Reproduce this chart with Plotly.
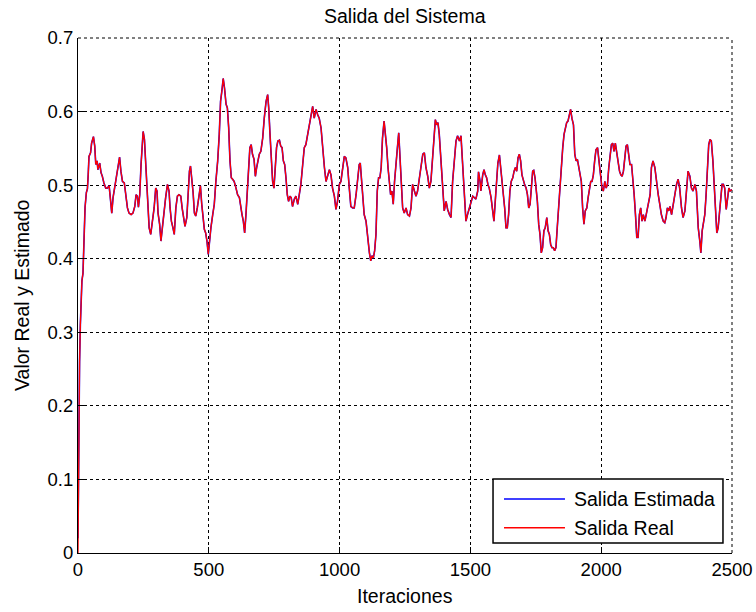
import plotly.graph_objects as go

# Iteration index and measured system output
iteraciones = [
    0, 2, 4, 6, 9, 12, 15, 19, 23, 27, 32, 36, 39, 42, 48, 52, 59, 64, 68, 73,
    76, 83, 88, 93, 99, 106, 112, 119, 124, 129, 134, 140, 147, 153, 159, 164, 170, 177, 182, 189,
    195, 203, 210, 217, 222, 227, 231, 236, 241, 245, 249, 254, 259, 263, 268, 272, 278, 284, 291, 297,
    302, 306, 312, 317, 323, 329, 335, 342, 348, 352, 357, 363, 368, 374, 380, 386, 393, 398, 403, 409,
    416, 421, 426, 430, 435, 440, 445, 450, 456, 463, 468, 473, 478, 483, 488, 493, 498, 502, 508, 515,
    521, 527, 534, 540, 545, 550, 555, 560, 566, 571, 576, 581, 586, 591, 597, 604, 610, 617, 622, 627,
    632, 637, 642, 647, 652, 657, 662, 667, 673, 678, 683, 688, 693, 699, 706, 712, 719, 725, 729, 734,
    739, 744, 749, 754, 759, 764, 770, 775, 780, 785, 790, 795, 800, 805, 810, 815, 820, 827, 833, 840,
    846, 852, 859, 865, 871, 878, 884, 891, 897, 903, 910, 916, 922, 929, 935, 942, 948, 954, 961, 967,
    973, 980, 986, 992, 999, 1005, 1012, 1018, 1024, 1031, 1037, 1043, 1050, 1056, 1063, 1069, 1075, 1079, 1083, 1088,
    1094, 1101, 1107, 1114, 1119, 1124, 1129, 1134, 1139, 1144, 1149, 1154, 1159, 1164, 1170, 1175, 1180, 1185, 1190, 1195,
    1200, 1205, 1210, 1216, 1221, 1226, 1231, 1236, 1241, 1247, 1254, 1260, 1267, 1273, 1279, 1286, 1292, 1298, 1305, 1311,
    1318, 1324, 1330, 1337, 1343, 1349, 1356, 1362, 1366, 1371, 1376, 1381, 1388, 1394, 1400, 1407, 1413, 1420, 1426, 1432,
    1439, 1445, 1451, 1458, 1464, 1470, 1477, 1483, 1489, 1496, 1502, 1509, 1515, 1521, 1528, 1531, 1537, 1540, 1547, 1552,
    1557, 1562, 1567, 1572, 1579, 1585, 1590, 1595, 1600, 1605, 1611, 1616, 1621, 1626, 1631, 1636, 1641, 1646, 1651, 1656,
    1662, 1667, 1672, 1677, 1682, 1687, 1692, 1697, 1702, 1707, 1713, 1718, 1723, 1728, 1733, 1738, 1742, 1747, 1751, 1756,
    1761, 1766, 1771, 1776, 1781, 1786, 1792, 1797, 1802, 1807, 1812, 1817, 1822, 1827, 1832, 1837, 1843, 1848, 1853, 1858,
    1863, 1868, 1873, 1878, 1883, 1888, 1894, 1899, 1904, 1909, 1914, 1919, 1924, 1929, 1934, 1939, 1945, 1950, 1955, 1960,
    1965, 1970, 1975, 1980, 1986, 1993, 1998, 2003, 2008, 2014, 2019, 2024, 2029, 2034, 2039, 2044, 2049, 2054, 2059, 2065,
    2070, 2075, 2080, 2085, 2090, 2095, 2100, 2105, 2110, 2116, 2121, 2126, 2131, 2136, 2141, 2146, 2151, 2156, 2161, 2167,
    2172, 2177, 2182, 2187, 2192, 2198, 2205, 2211, 2218, 2224, 2230, 2237, 2243, 2248, 2253, 2258, 2263, 2269, 2275, 2281,
    2288, 2294, 2300, 2307, 2313, 2320, 2326, 2332, 2339, 2345, 2351, 2358, 2364, 2371, 2377, 2381, 2386, 2391, 2396, 2401,
    2406, 2411, 2416, 2421, 2427, 2432, 2437, 2442, 2447, 2452, 2457, 2462, 2467, 2472, 2478, 2483, 2488, 2493, 2500,
]

salida_real = [
    0.000, 0.120, 0.200, 0.260, 0.310, 0.350, 0.370, 0.380, 0.430, 0.470, 0.490, 0.495, 0.514, 0.539, 0.544, 0.557, 0.566, 0.553, 0.528, 0.533,
    0.521, 0.530, 0.517, 0.512, 0.503, 0.496, 0.496, 0.499, 0.481, 0.462, 0.483, 0.496, 0.510, 0.526, 0.538, 0.519, 0.505, 0.503, 0.487, 0.469,
    0.462, 0.460, 0.462, 0.471, 0.487, 0.485, 0.470, 0.487, 0.528, 0.560, 0.573, 0.562, 0.528, 0.501, 0.469, 0.442, 0.433, 0.449, 0.469, 0.496,
    0.492, 0.462, 0.447, 0.424, 0.447, 0.469, 0.483, 0.501, 0.492, 0.469, 0.451, 0.442, 0.433, 0.469, 0.485, 0.487, 0.485, 0.469, 0.458, 0.444,
    0.456, 0.492, 0.519, 0.526, 0.510, 0.490, 0.462, 0.458, 0.469, 0.490, 0.499, 0.474, 0.451, 0.440, 0.435, 0.424, 0.406, 0.424, 0.442, 0.460,
    0.474, 0.505, 0.533, 0.569, 0.614, 0.628, 0.645, 0.632, 0.610, 0.605, 0.578, 0.533, 0.510, 0.508, 0.505, 0.496, 0.487, 0.483, 0.469, 0.460,
    0.451, 0.435, 0.460, 0.487, 0.514, 0.551, 0.555, 0.542, 0.535, 0.512, 0.524, 0.533, 0.542, 0.546, 0.564, 0.591, 0.614, 0.623, 0.605, 0.569,
    0.533, 0.505, 0.496, 0.524, 0.551, 0.560, 0.561, 0.553, 0.551, 0.533, 0.528, 0.510, 0.487, 0.478, 0.485, 0.483, 0.471, 0.481, 0.485, 0.474,
    0.487, 0.501, 0.528, 0.551, 0.555, 0.569, 0.578, 0.596, 0.607, 0.591, 0.603, 0.596, 0.591, 0.578, 0.546, 0.524, 0.505, 0.514, 0.521, 0.514,
    0.496, 0.485, 0.467, 0.478, 0.501, 0.505, 0.528, 0.539, 0.537, 0.524, 0.496, 0.471, 0.469, 0.469, 0.487, 0.505, 0.528, 0.530, 0.514, 0.487,
    0.460, 0.451, 0.429, 0.408, 0.397, 0.404, 0.401, 0.411, 0.433, 0.492, 0.510, 0.510, 0.524, 0.564, 0.587, 0.573, 0.551, 0.524, 0.501, 0.487,
    0.492, 0.474, 0.505, 0.537, 0.551, 0.571, 0.542, 0.501, 0.469, 0.462, 0.469, 0.460, 0.458, 0.469, 0.501, 0.492, 0.485, 0.492, 0.510, 0.519,
    0.542, 0.544, 0.524, 0.512, 0.496, 0.505, 0.537, 0.569, 0.589, 0.582, 0.585, 0.569, 0.533, 0.510, 0.465, 0.478, 0.467, 0.460, 0.456, 0.505,
    0.533, 0.560, 0.567, 0.560, 0.567, 0.533, 0.492, 0.451, 0.460, 0.469, 0.478, 0.485, 0.483, 0.481, 0.492, 0.518, 0.505, 0.492, 0.514, 0.521,
    0.514, 0.510, 0.501, 0.496, 0.483, 0.469, 0.451, 0.478, 0.505, 0.530, 0.541, 0.524, 0.505, 0.483, 0.469, 0.442, 0.442, 0.460, 0.492, 0.505,
    0.510, 0.519, 0.524, 0.519, 0.537, 0.542, 0.533, 0.514, 0.505, 0.501, 0.496, 0.487, 0.469, 0.474, 0.496, 0.519, 0.520, 0.510, 0.496, 0.478,
    0.447, 0.433, 0.408, 0.415, 0.438, 0.442, 0.456, 0.438, 0.433, 0.419, 0.415, 0.415, 0.411, 0.415, 0.442, 0.469, 0.505, 0.528, 0.551, 0.569,
    0.576, 0.585, 0.587, 0.596, 0.603, 0.591, 0.582, 0.542, 0.533, 0.535, 0.524, 0.519, 0.505, 0.469, 0.447, 0.465, 0.469, 0.483, 0.496, 0.505,
    0.505, 0.514, 0.533, 0.548, 0.551, 0.524, 0.514, 0.496, 0.492, 0.505, 0.496, 0.501, 0.524, 0.542, 0.555, 0.557, 0.546, 0.557, 0.546, 0.528,
    0.519, 0.514, 0.512, 0.519, 0.537, 0.553, 0.555, 0.542, 0.528, 0.528, 0.510, 0.487, 0.460, 0.429, 0.429, 0.460, 0.469, 0.451, 0.460, 0.451,
    0.460, 0.469, 0.474, 0.487, 0.524, 0.533, 0.524, 0.505, 0.487, 0.474, 0.460, 0.451, 0.449, 0.456, 0.469, 0.465, 0.471, 0.460, 0.474, 0.487,
    0.501, 0.508, 0.496, 0.469, 0.456, 0.465, 0.496, 0.519, 0.512, 0.496, 0.492, 0.501, 0.492, 0.442, 0.424, 0.408, 0.438, 0.451, 0.460, 0.487,
    0.533, 0.555, 0.562, 0.560, 0.533, 0.505, 0.469, 0.435, 0.442, 0.460, 0.487, 0.501, 0.501, 0.496, 0.467, 0.483, 0.496, 0.492, 0.494,
]

# The estimator starts from its own initial guess, then tracks the real output
salida_estimada = [0.020, 0.140, 0.205] + salida_real[3:]

FONT = "Liberation Sans, Arial, Helvetica, sans-serif"

fig = go.Figure()
fig.add_trace(go.Scatter(
    x=iteraciones, y=salida_estimada, mode="lines", name="Salida Estimada",
    line=dict(color="#0000FF", width=1.6), showlegend=False,
))
fig.add_trace(go.Scatter(
    x=iteraciones, y=salida_real, mode="lines", name="Salida Real",
    line=dict(color="#FF0000", width=1.3), showlegend=False,
))

axis_common = dict(
    showgrid=True, gridcolor="black", griddash="dot", gridwidth=1,
    showline=True, linecolor="black", linewidth=1, mirror=False,
    ticks="inside", ticklen=6, tickcolor="black", tickwidth=1,
    zeroline=False, automargin=False,
    tickfont=dict(family=FONT, size=18.5, color="black"),
)

fig.update_xaxes(range=[0, 2500], tick0=0, dtick=500, **axis_common)
fig.update_yaxes(range=[0, 0.7], tick0=0, dtick=0.1, **axis_common)

# Dotted grid lines along the top and right edges of the axes box
shapes = [
    dict(type="line", xref="paper", yref="paper", x0=0, x1=1, y0=1, y1=1,
         line=dict(color="black", width=1, dash="dot"), layer="below"),
    dict(type="line", xref="paper", yref="paper", x0=1, x1=1, y0=0, y1=1,
         line=dict(color="black", width=1, dash="dot"), layer="below"),
]

# Legend box drawn in paper coordinates
legend_x0, legend_x1 = 0.6346, 0.9862
legend_y0, legend_y1 = 0.0194, 0.1437
sample_x0, sample_x1 = 0.6514, 0.7446
text_x = 0.7554
rows = [("Salida Estimada", "#0000FF", 0.1049), ("Salida Real", "#FF0000", 0.0491)]

shapes.append(dict(type="rect", xref="paper", yref="paper",
                   x0=legend_x0, x1=legend_x1, y0=legend_y0, y1=legend_y1,
                   line=dict(color="black", width=1.5), fillcolor="white", layer="above"))
annotations = []
for label, color, yrow in rows:
    shapes.append(dict(type="line", xref="paper", yref="paper",
                       x0=sample_x0, x1=sample_x1, y0=yrow, y1=yrow,
                       line=dict(color=color, width=1.5), layer="above"))
    annotations.append(dict(xref="paper", yref="paper", x=text_x, y=yrow,
                            xanchor="left", yanchor="middle", showarrow=False,
                            text=label, font=dict(family=FONT, size=19.5, color="black")))

annotations += [
    dict(xref="paper", yref="paper", x=0.5, y=1.043, xanchor="center", yanchor="middle",
         showarrow=False, text="Salida del Sistema",
         font=dict(family=FONT, size=19.5, color="black")),
    dict(xref="paper", yref="paper", x=0.5, y=-0.0835, xanchor="center", yanchor="middle",
         showarrow=False, text="Iteraciones",
         font=dict(family=FONT, size=19.5, color="black")),
    dict(xref="paper", yref="paper", x=-0.0856, y=0.501, xanchor="center", yanchor="middle",
         showarrow=False, text="Valor Real y Estimado", textangle=-90,
         font=dict(family=FONT, size=19.5, color="black")),
]

fig.update_layout(
    width=756, height=612,
    margin=dict(l=78, r=24, t=38, b=59),
    paper_bgcolor="white", plot_bgcolor="white",
    shapes=shapes, annotations=annotations,
    showlegend=False,
)

fig.write_html("out.html")
